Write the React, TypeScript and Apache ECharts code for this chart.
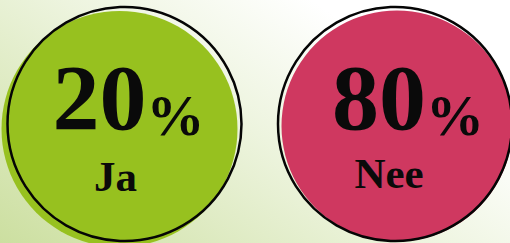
import React, { useEffect, useRef } from "react";
import * as echarts from "echarts";

const categories = ["Ja", "Nee"];
const percentages = [20, 80];
const fillColors = ["#97C11F", "#CF3860"];

// visual-only tweaks (hand-drawn offsets of fills and labels)
const fillOffsets = [[-5, 5], [2, 2]];
const numberOffsets = [[4, -13], [13, -13]];
const nameOffsets = [[-4, 47], [-8, 47]];

export default function App() {
  const ref = useRef<HTMLDivElement>(null);
  useEffect(() => {
    document.body.style.margin = "0";
    const chart = echarts.init(ref.current!, null, { renderer: "svg" });
    const serif = "'Liberation Serif', 'Times New Roman', serif";
    chart.setOption({
      animation: false,
      backgroundColor: new echarts.graphic.LinearGradient(0, 1, 1, 0.3, [
        { offset: 0, color: "#CCDFA0" },
        { offset: 0.55, color: "#EDF4DE" },
        { offset: 0.88, color: "#FFFFFF" },
        { offset: 1, color: "#FFFFFF" },
      ]),
      grid: { left: 124.5, right: 115, top: 5, bottom: 0 },
      xAxis: {
        type: "category",
        data: categories,
        boundaryGap: false,
        show: false,
      },
      yAxis: { type: "category", data: [""], show: false },
      series: [
        {
          type: "scatter",
          symbol: "circle",
          z: 1,
          data: categories.map((c, i) => ({
            value: [c, ""],
            name: c,
            symbolSize: i === 0 ? 236 : 231,
            symbolOffset: fillOffsets[i],
            itemStyle: { color: fillColors[i], opacity: 1 },
            label: { offset: nameOffsets[i] },
          })),
          label: {
            show: true,
            position: "inside",
            formatter: (p: any) => p.name,
            fontFamily: serif,
            fontWeight: "bold",
            fontSize: 43,
            lineHeight: 44,
            color: "#0a0a0a",
          },
          emphasis: { disabled: true },
        },
        {
          type: "scatter",
          symbol: "circle",
          symbolSize: 234,
          z: 2,
          data: categories.map((c, i) => ({
            value: [c, ""],
            name: c,
            label: { offset: numberOffsets[i] },
          })),
          itemStyle: {
            color: "rgba(0,0,0,0)",
            borderColor: "#050505",
            borderWidth: 2.5,
            opacity: 1,
          },
          label: {
            show: true,
            position: "inside",
            formatter: (p: any) => `{num|${percentages[p.dataIndex]}}{pct|%}`,
            rich: {
              num: {
                fontFamily: serif,
                fontWeight: "bold",
                fontSize: 94,
                color: "#0a0a0a",
                verticalAlign: "bottom",
                lineHeight: 66,
              },
              pct: {
                fontFamily: serif,
                fontWeight: "bold",
                fontSize: 58,
                color: "#0a0a0a",
                verticalAlign: "bottom",
                lineHeight: 52,
              },
            },
          },
          emphasis: { disabled: true },
        },
      ],
    });
    return () => chart.dispose();
  }, []);
  return <div ref={ref} style={{ width: 510, height: 243 }} />;
}
